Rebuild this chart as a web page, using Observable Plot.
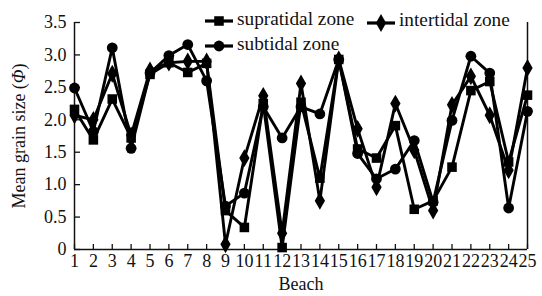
<!DOCTYPE html>
<html>
<head>
<meta charset="utf-8">
<script src="https://cdn.jsdelivr.net/npm/d3@7"></script>
<script src="https://cdn.jsdelivr.net/npm/@observablehq/plot@0.6"></script>
<style>
  html, body { margin: 0; padding: 0; background: #fff; }
  #chart { position: relative; width: 542px; height: 296px; }
</style>
</head>
<body>
<div id="chart"></div>
<script>
const beaches = [1,2,3,4,5,6,7,8,9,10,11,12,13,14,15,16,17,18,19,20,21,22,23,24,25];
const supratidal = [2.16,1.69,2.32,1.72,2.70,2.88,2.73,2.87,0.60,0.34,2.25,0.03,2.27,1.10,2.93,1.55,1.41,1.91,0.62,0.75,1.27,2.45,2.59,1.35,2.38];
const subtidal   = [2.49,1.82,3.11,1.56,2.72,2.99,3.16,2.60,0.67,0.87,2.20,1.72,2.20,2.09,2.93,1.48,1.09,1.24,1.68,0.73,1.99,2.98,2.72,0.64,2.13];
const intertidal = [2.07,2.00,2.71,1.76,2.76,2.88,2.90,2.90,0.08,1.41,2.37,0.25,2.56,0.75,2.93,1.86,0.96,2.25,1.53,0.60,2.23,2.67,2.07,1.22,2.80];
const yTicks = [0,0.5,1.0,1.5,2.0,2.5,3.0,3.5];
const seriesNames = ["supratidal zone","subtidal zone","intertidal zone"];
const seriesSymbols = ["square","circle","diamond"];
const seriesValues = [supratidal, subtidal, intertidal];

const rows = [];
seriesNames.forEach((name, s) => {
  beaches.forEach((b, i) => rows.push({beach: b, value: seriesValues[s][i], series: name}));
});

const font = "'Liberation Serif', 'Times New Roman', serif";
const fmt = d => d === 0 ? "0" : d.toFixed(1);

const plot = Plot.plot({
  width: 542,
  height: 296,
  marginLeft: 74,
  marginRight: 15,
  marginTop: 22,
  marginBottom: 47,
  style: {fontFamily: font, fontSize: "18px", color: "#111", background: "white", overflow: "visible"},
  x: {domain: [beaches[0], beaches[beaches.length - 1]]},
  y: {domain: [yTicks[0], yTicks[yTicks.length - 1]]},
  marks: [
    Plot.axisY({ticks: yTicks, tickSize: 0, tickPadding: 8, tickFormat: fmt, label: null, fill: "#111"}),
    Plot.axisY({ticks: yTicks, tickSize: 6, dx: 6, tickFormat: () => "", label: null, strokeWidth: 1.3}),
    Plot.axisX({ticks: beaches, tickSize: 5, dy: -5, tickFormat: () => "", label: null, strokeWidth: 1.3}),
    Plot.axisX({ticks: beaches, tickSize: 0, tickPadding: 5, tickFormat: d => String(d), label: "Beach", labelAnchor: "center", labelArrow: false, labelOffset: 40, fill: "#111"}),
    Plot.ruleY([yTicks[0]], {stroke: "#111", strokeWidth: 1.5}),
    Plot.ruleX([beaches[0], beaches[beaches.length - 1]], {stroke: "#111", strokeWidth: 1.5}),
    ...seriesNames.map((name, s) => Plot.line(rows.filter(r => r.series === name), {x: "beach", y: "value", stroke: "black", strokeWidth: 2.9})),
    ...seriesNames.map((name, s) => Plot.dot(rows.filter(r => r.series === name), {x: "beach", y: "value", symbol: seriesSymbols[s], fill: "black", stroke: "none", r: 5.4}))
  ]
});
document.getElementById("chart").appendChild(plot);

const svg = d3.select(plot);
// Y axis label with italic Phi
const yl = svg.append("text")
  .attr("transform", "translate(21,136) rotate(-90)")
  .attr("text-anchor", "middle")
  .attr("dominant-baseline", "middle")
  .attr("font-family", font)
  .attr("font-size", 18)
  .attr("fill", "#111");
yl.append("tspan").text("Mean grain size (");
yl.append("tspan").attr("font-style", "italic").text("Φ");
yl.append("tspan").text(")");

// Legend
const legendPos = [
  {x: 205, y: 21, tx: 237, ty: 25},
  {x: 205, y: 46, tx: 237, ty: 50},
  {x: 367, y: 23, tx: 399, ty: 26}
];
const symMap = {square: d3.symbolSquare, circle: d3.symbolCircle, diamond: d3.symbolDiamond};
seriesNames.forEach((name, s) => {
  const p = legendPos[s];
  const g = svg.append("g");
  g.append("line").attr("x1", p.x).attr("x2", p.x + 28).attr("y1", p.y).attr("y2", p.y)
    .attr("stroke", "black").attr("stroke-width", 3.2);
  g.append("path").attr("d", d3.symbol(symMap[seriesSymbols[s]], Math.PI * 29)())
    .attr("transform", `translate(${p.x + 14},${p.y})`).attr("fill", "black");
  g.append("text").attr("x", p.tx).attr("y", p.ty).attr("text-anchor", "start")
    .attr("font-family", font).attr("font-size", 19.3).attr("fill", "#111").text(name);
});
</script>
</body>
</html>
